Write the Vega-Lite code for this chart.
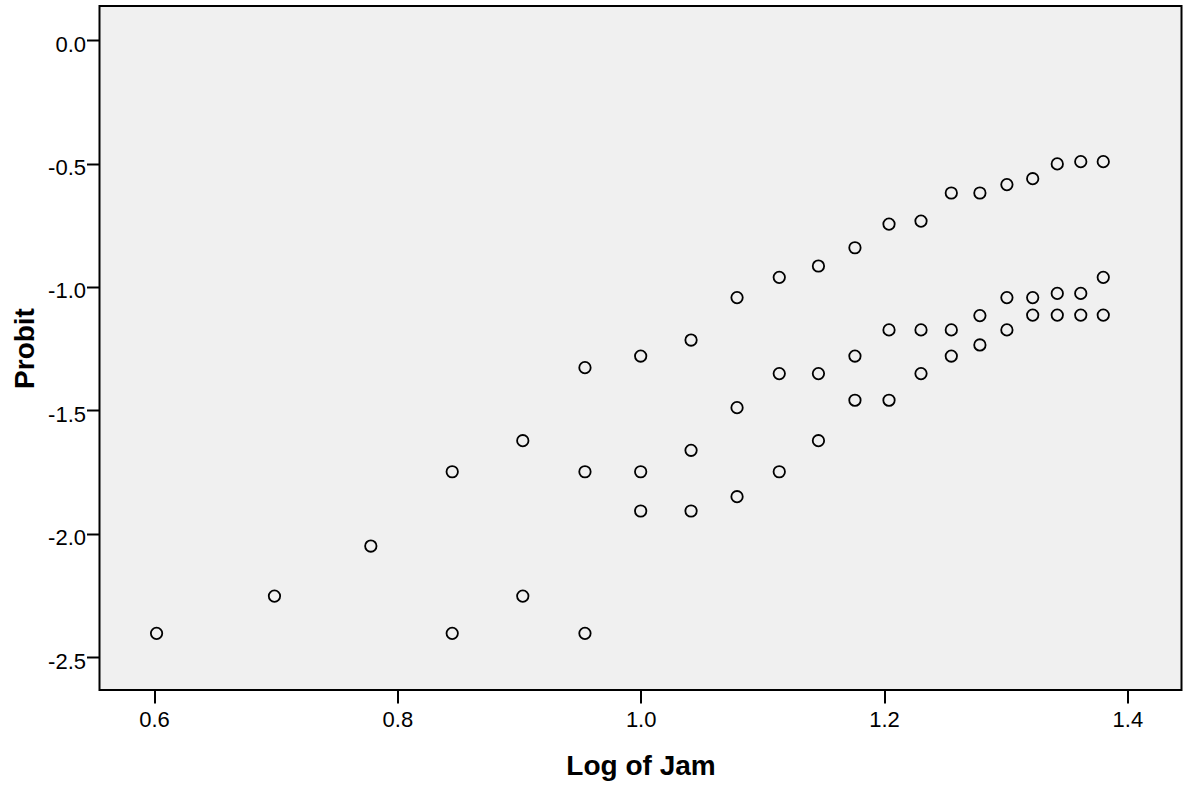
{
  "$schema": "https://vega.github.io/schema/vega-lite/v6.json",
  "autosize": {"type": "none"},
  "padding": {"left": 99.5, "top": 6, "right": 12.5, "bottom": 99},
  "width": 1082,
  "height": 684,
  "background": "white",
  "config": {
    "view": {"fill": "#f0f0f0", "stroke": "black", "strokeWidth": 2},
    "font": "Liberation Sans"
  },
  "data": {
    "values": [
      {"LogJam": 0.6021, "Probit": -2.404},
      {"LogJam": 0.6990, "Probit": -2.253},
      {"LogJam": 0.7782, "Probit": -2.050},
      {"LogJam": 0.8451, "Probit": -1.749},
      {"LogJam": 0.8451, "Probit": -2.404},
      {"LogJam": 0.9031, "Probit": -1.623},
      {"LogJam": 0.9031, "Probit": -2.253},
      {"LogJam": 0.9542, "Probit": -1.327},
      {"LogJam": 0.9542, "Probit": -1.749},
      {"LogJam": 0.9542, "Probit": -2.404},
      {"LogJam": 1.0000, "Probit": -1.280},
      {"LogJam": 1.0000, "Probit": -1.749},
      {"LogJam": 1.0000, "Probit": -1.908},
      {"LogJam": 1.0414, "Probit": -1.215},
      {"LogJam": 1.0414, "Probit": -1.662},
      {"LogJam": 1.0414, "Probit": -1.908},
      {"LogJam": 1.0792, "Probit": -1.043},
      {"LogJam": 1.0792, "Probit": -1.489},
      {"LogJam": 1.0792, "Probit": -1.850},
      {"LogJam": 1.1139, "Probit": -0.961},
      {"LogJam": 1.1139, "Probit": -1.351},
      {"LogJam": 1.1139, "Probit": -1.749},
      {"LogJam": 1.1461, "Probit": -0.915},
      {"LogJam": 1.1461, "Probit": -1.351},
      {"LogJam": 1.1461, "Probit": -1.623},
      {"LogJam": 1.1761, "Probit": -0.841},
      {"LogJam": 1.1761, "Probit": -1.280},
      {"LogJam": 1.1761, "Probit": -1.459},
      {"LogJam": 1.2041, "Probit": -0.745},
      {"LogJam": 1.2041, "Probit": -1.174},
      {"LogJam": 1.2041, "Probit": -1.459},
      {"LogJam": 1.2304, "Probit": -0.733},
      {"LogJam": 1.2304, "Probit": -1.174},
      {"LogJam": 1.2304, "Probit": -1.351},
      {"LogJam": 1.2553, "Probit": -0.619},
      {"LogJam": 1.2553, "Probit": -1.174},
      {"LogJam": 1.2553, "Probit": -1.280},
      {"LogJam": 1.2788, "Probit": -0.619},
      {"LogJam": 1.2788, "Probit": -1.116},
      {"LogJam": 1.2788, "Probit": -1.235},
      {"LogJam": 1.3010, "Probit": -0.585},
      {"LogJam": 1.3010, "Probit": -1.043},
      {"LogJam": 1.3010, "Probit": -1.174},
      {"LogJam": 1.3222, "Probit": -0.561},
      {"LogJam": 1.3222, "Probit": -1.043},
      {"LogJam": 1.3222, "Probit": -1.114},
      {"LogJam": 1.3424, "Probit": -0.501},
      {"LogJam": 1.3424, "Probit": -1.026},
      {"LogJam": 1.3424, "Probit": -1.114},
      {"LogJam": 1.3617, "Probit": -0.492},
      {"LogJam": 1.3617, "Probit": -1.026},
      {"LogJam": 1.3617, "Probit": -1.114},
      {"LogJam": 1.3802, "Probit": -0.492},
      {"LogJam": 1.3802, "Probit": -0.961},
      {"LogJam": 1.3802, "Probit": -1.114}
    ]
  },
  "mark": {"type": "point", "shape": "circle", "filled": false, "stroke": "black", "strokeWidth": 1.8, "size": 130, "opacity": 1},
  "encoding": {
    "x": {
      "field": "LogJam",
      "type": "quantitative",
      "scale": {"domain": [0.5552, 1.4445], "nice": false, "zero": false},
      "axis": {
        "title": "Log of Jam",
        "values": [0.6, 0.8, 1.0, 1.2, 1.4],
        "labelExpr": "format(datum.value, '.1f')",
        "grid": false,
        "domain": false,
        "ticks": true,
        "tickColor": "black",
        "tickWidth": 2,
        "tickSize": 13,
        "labelPadding": 6,
        "labelFont": "Liberation Sans",
        "labelFontSize": 22,
        "labelColor": "black",
        "titleFont": "Liberation Sans",
        "titleFontSize": 28,
        "titleFontWeight": "bold",
        "titleColor": "black",
        "titleBaseline": "alphabetic",
        "titleY": 84
      }
    },
    "y": {
      "field": "Probit",
      "type": "quantitative",
      "scale": {"domain": [-2.6336, 0.139], "nice": false, "zero": false},
      "axis": {
        "title": "Probit",
        "values": [0, -0.5, -1.0, -1.5, -2.0, -2.5],
        "labelExpr": "replace(format(datum.value, '.1f'), '−', '-')",
        "grid": false,
        "domain": false,
        "ticks": true,
        "tickColor": "black",
        "tickWidth": 2,
        "tickSize": 13,
        "labelPadding": 1,
        "labelOffset": 4,
        "labelFont": "Liberation Sans",
        "labelFontSize": 22,
        "labelColor": "black",
        "titleFont": "Liberation Sans",
        "titleFontSize": 28,
        "titleFontWeight": "bold",
        "titleColor": "black",
        "titleBaseline": "alphabetic",
        "titleAngle": -90,
        "titleAlign": "center",
        "titleX": -66,
        "titleY": 342
      }
    }
  }
}
